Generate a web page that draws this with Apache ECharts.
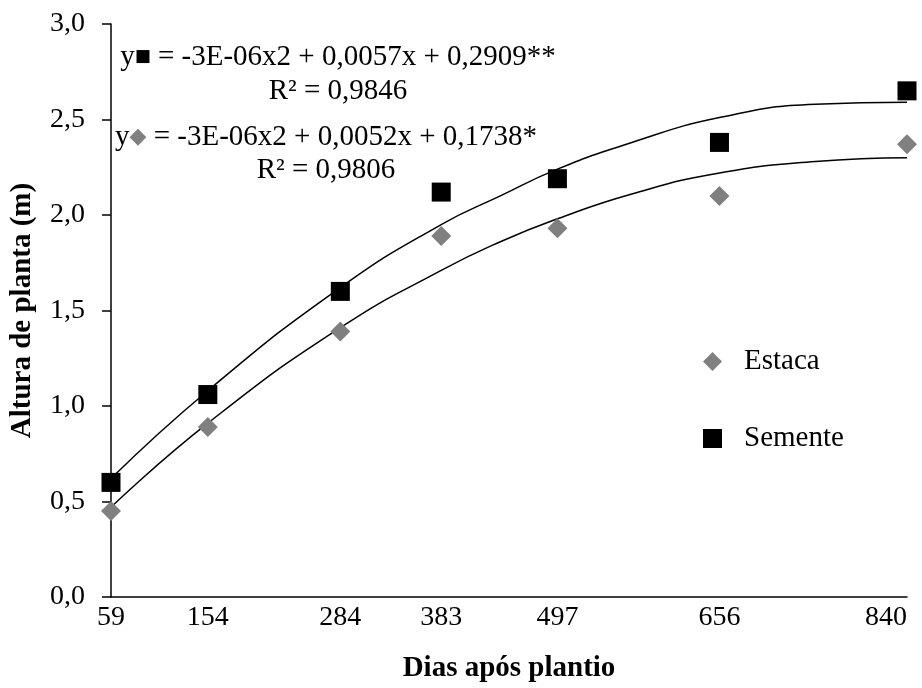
<!DOCTYPE html>
<html>
<head>
<meta charset="utf-8">
<script src="https://cdn.jsdelivr.net/npm/echarts@6/dist/echarts.min.js"></script>
<style>
html,body{margin:0;padding:0;background:#fff;}
#chart{width:922px;height:688px;}
</style>
</head>
<body>
<div id="chart"></div>
<script>
// ---- data ----
var dias = [59, 154, 284, 383, 497, 656, 840];
var estaca = [0.45, 0.89, 1.39, 1.89, 1.93, 2.10, 2.37];
var semente = [0.60, 1.06, 1.60, 2.12, 2.19, 2.38, 2.65];
// trend curves at these days
var trendDias = [59, 154, 284, 383, 441, 497, 570, 656, 750, 840];
var trendEstaca = [0.47, 0.91, 1.41, 1.71, 1.86, 1.98, 2.11, 2.22, 2.28, 2.30];
var trendSemente = [0.62, 1.08, 1.62, 1.95, 2.10, 2.24, 2.38, 2.51, 2.58, 2.59];
var xTickLabels = ['59', '154', '284', '383', '497', '656', '840'];
var eqSemente = ['y{sq|\u25A0} = -3E-06x2 + 0,0057x + 0,2909**', 'R\u00B2 = 0,9846'];
var eqEstaca = ['y{dm|\u25C6} = -3E-06x2 + 0,0052x + 0,1738*', 'R\u00B2 = 0,9806'];
var seriesNames = ['Estaca', 'Semente'];

function pairs(xs, ys) { return xs.map(function (x, i) { return [x, ys[i]]; }); }

var FONT = "'Liberation Serif','Times New Roman',serif";
var chart = echarts.init(document.getElementById('chart'), null, {renderer: 'canvas'});

var option = {
  backgroundColor: '#ffffff',
  animation: false,
  grid: {left: 109, right: 15, top: 24, bottom: 91, containLabel: false},
  legend: {
    data: [
      {name: seriesNames[0], icon: 'diamond', itemStyle: {color: '#808080'}},
      {name: seriesNames[1], icon: 'rect', itemStyle: {color: '#000000'}}
    ],
    orient: 'vertical',
    left: 698,
    top: 342,
    itemWidth: 19,
    itemHeight: 19,
    itemGap: 48,
    textStyle: {fontFamily: FONT, fontSize: 29, color: '#000', padding: [0, 0, 0, 17]}
  },
  xAxis: {
    type: 'value',
    min: dias[0],
    max: dias[dias.length - 1],
    name: 'Dias após plantio',
    nameLocation: 'middle',
    nameGap: 57,
    nameTextStyle: {fontFamily: FONT, fontSize: 29, fontWeight: 'bold', color: '#000'},
    axisLine: {show: true, onZero: false, lineStyle: {color: '#000', width: 1.5}},
    axisTick: {show: false},
    splitLine: {show: false},
    axisLabel: {
      customValues: dias,
      formatter: function (v) { var i = dias.indexOf(v); return i >= 0 ? xTickLabels[i] : ''; },
      fontFamily: FONT, fontSize: 28, color: '#000', margin: 7,
      alignMaxLabel: 'right'
    }
  },
  yAxis: {
    type: 'value',
    min: 0,
    max: 3,
    interval: 0.5,
    name: 'Altura de planta (m)',
    nameLocation: 'middle',
    nameGap: 74,
    nameTextStyle: {fontFamily: FONT, fontSize: 29, fontWeight: 'bold', color: '#000'},
    axisLine: {show: true, lineStyle: {color: '#000', width: 1.5}},
    axisTick: {show: true, inside: false, length: 9, lineStyle: {color: '#000', width: 1.5}},
    splitLine: {show: false},
    axisLabel: {
      formatter: function (v) { return v.toFixed(1).replace('.', ','); },
      fontFamily: FONT, fontSize: 28, color: '#000', margin: 26
    }
  },
  graphic: [
    {
      type: 'text', x: 338, y: 74,
      style: {
        text: eqSemente.join('\n'),
        align: 'center', verticalAlign: 'middle',
        fontFamily: FONT, fontSize: 29, lineHeight: 34, fill: '#000',
        rich: {sq: {fontFamily: 'DejaVu Sans', fontSize: 17, fill: '#000', lineHeight: 34}}
      }
    },
    {
      type: 'text', x: 326, y: 154,
      style: {
        text: eqEstaca.join('\n'),
        align: 'center', verticalAlign: 'middle',
        fontFamily: FONT, fontSize: 29, lineHeight: 33, fill: '#000',
        rich: {dm: {fontFamily: 'DejaVu Sans', fontSize: 22, fill: '#808080', lineHeight: 33}}
      }
    }
  ],
  series: [
    {
      name: 'trendSemente', type: 'line', data: pairs(trendDias, trendSemente),
      smooth: true, showSymbol: false, symbol: 'none', silent: true,
      lineStyle: {color: '#000', width: 1.5}, z: 1
    },
    {
      name: 'trendEstaca', type: 'line', data: pairs(trendDias, trendEstaca),
      smooth: true, showSymbol: false, symbol: 'none', silent: true,
      lineStyle: {color: '#000', width: 1.5}, z: 1
    },
    {
      name: seriesNames[0], type: 'scatter', data: pairs(dias, estaca),
      symbol: 'diamond', symbolSize: 20, itemStyle: {color: '#808080', opacity: 1}, z: 3
    },
    {
      name: seriesNames[1], type: 'scatter', data: pairs(dias, semente),
      symbol: 'rect', symbolSize: 19, itemStyle: {color: '#000000', opacity: 1}, z: 3
    }
  ]
};
chart.setOption(option);
</script>
</body>
</html>
